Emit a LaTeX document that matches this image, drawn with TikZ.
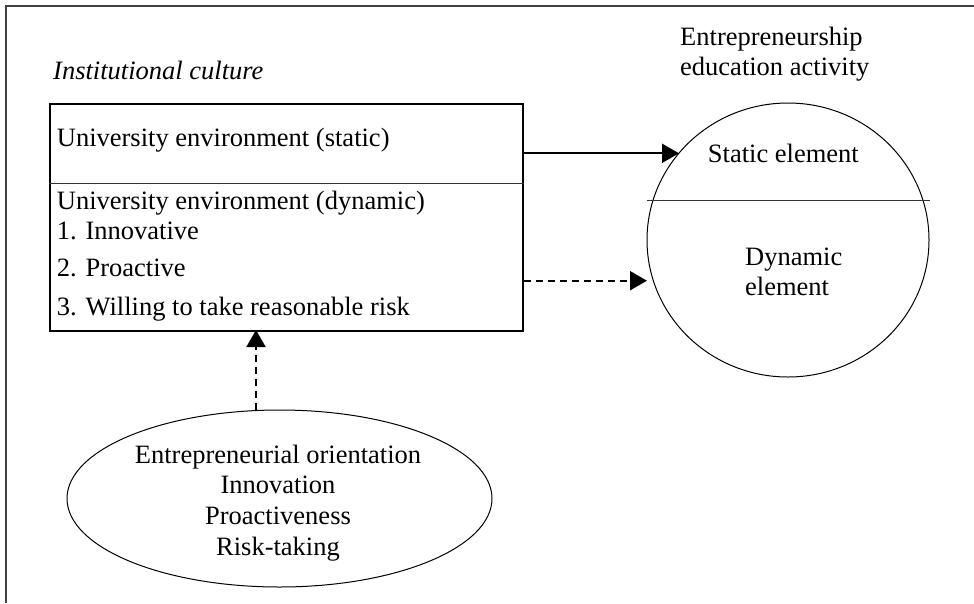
\documentclass[tikz,border=0pt]{standalone}
\usepackage{fontspec}
\setmainfont{Liberation Serif}
\usetikzlibrary{shapes.geometric,arrows.meta}
\begin{document}
\begin{tikzpicture}[x=1pt,y=-1pt,
  lbl/.style={anchor=base west,inner sep=0pt,font=\fontsize{26.5}{31}\selectfont},
  ctr/.style={inner sep=0pt,font=\fontsize{26.5}{30.7}\selectfont,align=center},
  solidarrow/.style={line width=2pt,-{Triangle[length=17pt,width=19pt]}},
  dasharrow/.style={line width=2pt,dash pattern=on 7pt off 5pt,-{Triangle[length=17pt,width=19pt]}},
  frame/.style={line width=2pt,draw=black!75},
  thin/.style={line width=1pt,draw=black!80}]
\useasboundingbox (0,0) rectangle (974,603);
% outer frame (only top and left edges visible)
\draw[frame] (5.5,603) -- (5.5,5.5) -- (974,5.5);
% institutional culture box
\node[lbl,font=\fontsize{26.5}{31}\selectfont\itshape] (ic) at (53,79) {Institutional culture};
\node[draw,line width=2pt,inner sep=0pt,minimum width=473pt,minimum height=227pt,anchor=north west] (env) at (49,103) {};
\draw[thin] (env.west |- 0,183.3) -- (env.east |- 0,183.3);
\node[lbl] (st) at (56.7,146.7) {University environment (static)};
\node[lbl] (dy) at (56.7,209.3) {University environment (dynamic)};
\node[lbl] (i1) at (56.7,239.3) {1. Innovative};
\node[lbl] (i2) at (56.7,276) {2. Proactive};
\node[lbl] (i3) at (56.7,315) {3. Willing to take reasonable risk};
% entrepreneurship education activity circle
\node[lbl] (ea1) at (680,45) {Entrepreneurship};
\node[lbl] (ea2) at (680,75) {education activity};
\node[ellipse,draw,line width=1pt,inner sep=0pt,minimum width=282pt,minimum height=274pt] (edu) at (788,240) {};
\draw[thin] (edu.west |- 0,200) -- (edu.east |- 0,200);
\node[lbl] (se) at (707.7,162.7) {Static element};
\node[lbl] (de1) at (745,265) {Dynamic};
\node[lbl] (de2) at (745,295) {element};
% entrepreneurial orientation ellipse
\node[ellipse,draw,line width=1pt,inner sep=0pt,minimum width=425pt,minimum height=177pt] (eo) at (279.5,498.5) {};
\node[ctr] (eot) at (278,503) {Entrepreneurial orientation\\Innovation\\Proactiveness\\Risk-taking};
% connectors
\coordinate (t1) at (679,153.3);
\coordinate (t2) at (647,280.7);
\coordinate (t3) at (256,330);
\draw[solidarrow] (env.east |- t1) -- (t1);
\draw[dasharrow] (env.east |- t2) -- (t2);
\draw[dasharrow] (t3 |- eo.north) -- (t3);
\end{tikzpicture}
\end{document}
